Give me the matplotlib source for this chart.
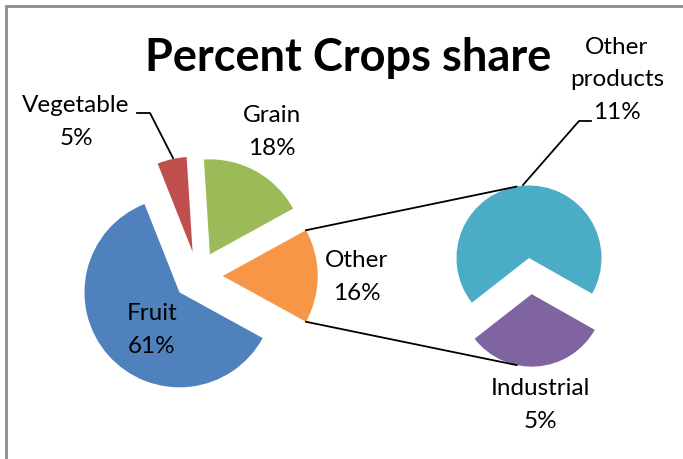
import numpy as np
import matplotlib
matplotlib.use('Agg')
import matplotlib.pyplot as plt
from matplotlib.patches import Rectangle

# main pie (clockwise from the right-hand "Other" slice)
main_labels = ['Fruit', 'Vegetable', 'Grain', 'Other']
main_values = [61, 5, 18, 16]
main_colors = ['#4F81BD', '#C0504D', '#9BBB59', '#F79646']

# secondary pie that splits "Other"
sub_labels = ['Other\nproducts', 'Industrial']
sub_values = [11, 5]
sub_colors = ['#4BACC6', '#8064A2']

W, H = 683, 459
plt.rcParams['font.family'] = ['Lato', 'DejaVu Sans']

fig = plt.figure(figsize=(W / 100, H / 100), dpi=100)
ax = fig.add_axes([0, 0, 1, 1])


def py(y):
    # pixel row -> data y
    return H - y


# main pie
R1, R2 = 95, 72.5
other_share = main_values[-1] / sum(main_values)
main_wedges, _ = ax.pie(main_values, colors=main_colors, radius=R1, center=(198, py(276)),
                        startangle=-other_share * 180, counterclock=False,
                        explode=[0.26 * R1] * len(main_values), frame=True,
                        wedgeprops=dict(linewidth=0))

# secondary pie
sub_wedges, _ = ax.pie(sub_values, colors=sub_colors, radius=R2, center=(529, py(258)),
                       startangle=218, counterclock=False, explode=[0, 0.5 * R2], frame=True,
                       wedgeprops=dict(linewidth=0))
ax.set_xlim(0, W)
ax.set_ylim(0, H)
ax.set_aspect('equal')
ax.set_axis_off()

# chart-area border; its right and bottom edges lie outside the picture
ax.add_patch(Rectangle((6, -20), W + 40, py(6) + 20, facecolor='none',
                       edgecolor='#8c8c8c', linewidth=2))


def point_on(wedge, angle):
    cx, cy = wedge.center
    a = np.deg2rad(angle)
    return cx + wedge.r * np.cos(a), cy + wedge.r * np.sin(a)


# connector lines from "Other" to the secondary pie
ow = main_wedges[-1]
top_start = point_on(ow, max(ow.theta1, ow.theta2))
bot_start = point_on(ow, min(ow.theta1, ow.theta2))
top_end = point_on(sub_wedges[0], 100)
bot_end = point_on(sub_wedges[1], 258)
ax.plot([top_start[0], top_end[0]], [top_start[1], top_end[1]], color='black', lw=1.3)
ax.plot([bot_start[0], bot_end[0]], [bot_start[1], bot_end[1]], color='black', lw=1.3)

# leader lines
ax.plot([137, 150, 173], [py(113), py(113), py(158)], color='black', lw=1.3)
ax.plot([523, 579, 591], [py(185), py(121), py(121)], color='black', lw=1.3)

lab = dict(fontsize=17.5, ha='center', va='center', linespacing=1.68, color='black')
ax.text(76, py(122), main_labels[1] + '\n5%', **lab)
ax.text(272, py(132), main_labels[2] + '\n18%', **lab)
ax.text(357, py(277), main_labels[3] + '\n16%', **lab)
ax.text(152, py(330), main_labels[0] + '\n61%', **lab)
ax.text(617, py(80), sub_labels[0] + '\n11%', **lab)
ax.text(540, py(405), sub_labels[1] + '\n5%', **lab)

ax.text(348, py(58), 'Percent Crops share', fontsize=32.5, fontweight='bold',
        ha='center', va='center', color='black')

fig.savefig('out.png', dpi=100)
